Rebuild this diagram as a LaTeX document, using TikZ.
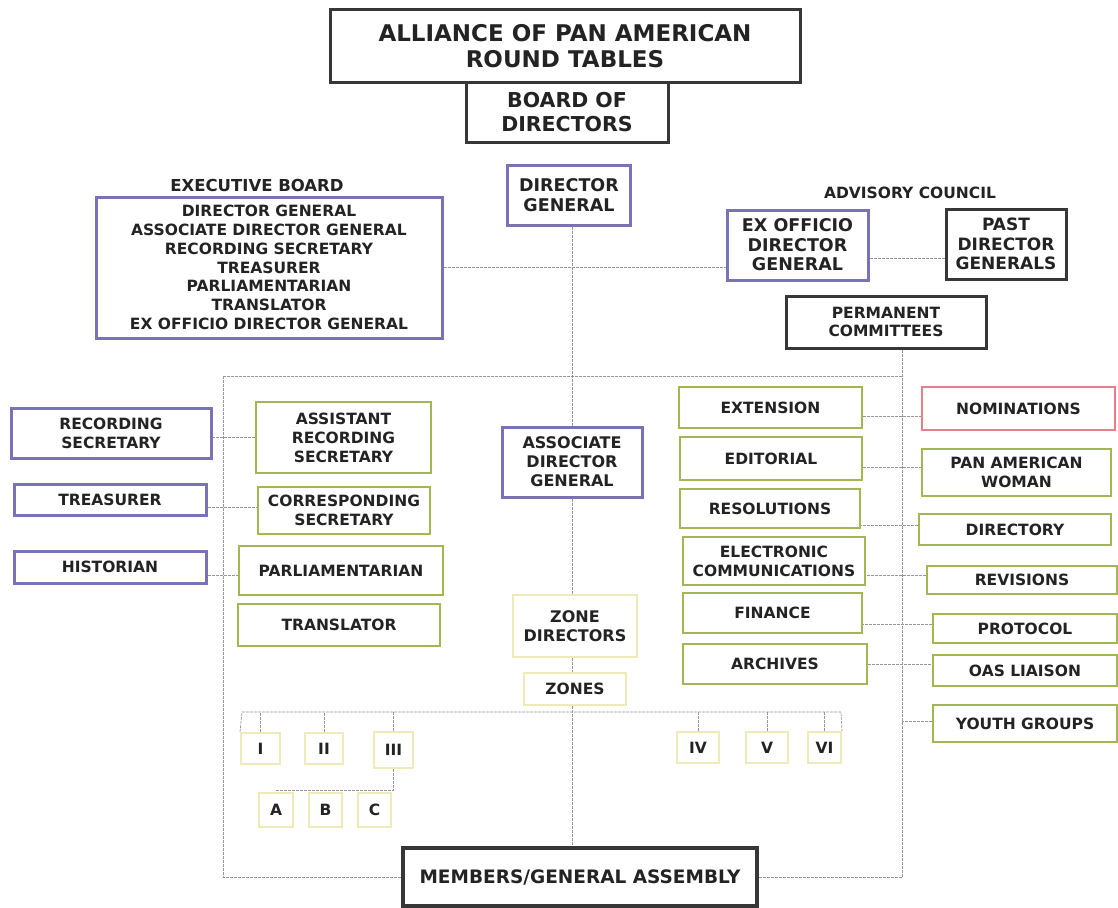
\documentclass[tikz,border=0pt]{standalone}
\usepackage{fontspec}
\setmainfont{DejaVu Sans}
\definecolor{purp}{RGB}{120,114,182}
\definecolor{grn}{RGB}{162,182,84}
\definecolor{ylw}{RGB}{240,234,184}
\definecolor{rd}{RGB}{228,128,136}
\definecolor{blk}{RGB}{55,55,55}
\definecolor{txt}{RGB}{35,35,35}
\definecolor{ln}{RGB}{150,150,150}
\tikzset{
  bx/.style={draw, fill=white, align=center, inner sep=0pt, text=txt,
    font=\fontsize{15.5}{19}\selectfont\bfseries},
  sz/.style 2 args={minimum width=#1pt, minimum height=#2pt},
  pbox/.style={bx, draw=purp, line width=3pt},
  gbox/.style={bx, draw=grn, line width=2.6pt},
  ybox/.style={bx, draw=ylw, line width=2pt},
  rbox/.style={bx, draw=rd, line width=2.4pt},
  kbox/.style={bx, draw=blk, line width=3pt},
  lbl/.style={text=txt, inner sep=0pt},
  conn/.style={draw=ln, line width=0.65pt, dash pattern=on 3pt off 1pt},
}
\begin{document}
\begin{tikzpicture}[x=1pt,y=-1pt]
\useasboundingbox (0,0) rectangle (1118,907);
\fill[white] (0,0) rectangle (1118,907);

% top
\node[kbox, sz={470}{72}, font=\fontsize{23}{26.5}\selectfont\bfseries] (title) at (565,46) {ALLIANCE OF PAN AMERICAN\\ROUND TABLES};
\node[kbox, sz={202}{60}, font=\fontsize{20.5}{24}\selectfont\bfseries] (board) at (567,112) {BOARD OF\\DIRECTORS};
\node[pbox, sz={123}{60}, font=\fontsize{17.5}{20}\selectfont\bfseries] (dg) at (569,195) {DIRECTOR\\GENERAL};

\node[lbl, font=\fontsize{16.5}{19}\selectfont\bfseries] (execlbl) at (257,185) {EXECUTIVE BOARD};
\node[pbox, sz={346}{141}, font=\fontsize{15.5}{18.8}\selectfont\bfseries] (exec) at (269,267.5)
  {DIRECTOR GENERAL\\ASSOCIATE DIRECTOR GENERAL\\RECORDING SECRETARY\\TREASURER\\PARLIAMENTARIAN\\TRANSLATOR\\EX OFFICIO DIRECTOR GENERAL};

\node[lbl, font=\fontsize{15.5}{18}\selectfont\bfseries] (advlbl) at (910,193) {ADVISORY COUNCIL};
\node[pbox, sz={141}{70}, font=\fontsize{17.5}{19.5}\selectfont\bfseries] (exoff) at (797.5,245) {EX OFFICIO\\DIRECTOR\\GENERAL};
\node[kbox, sz={120}{70}, font=\fontsize{17}{19.5}\selectfont\bfseries] (past) at (1006,244) {PAST\\DIRECTOR\\GENERALS};
\node[kbox, sz={200}{52}, font=\fontsize{15.5}{18}\selectfont\bfseries] (perm) at (886,322) {PERMANENT\\COMMITTEES};

% center column
\node[pbox, sz={140}{70}, font=\fontsize{16}{19}\selectfont\bfseries] (adg) at (572,462) {ASSOCIATE\\DIRECTOR\\GENERAL};
\node[ybox, sz={124}{62}, font=\fontsize{16}{18.5}\selectfont\bfseries] (zd) at (575,626) {ZONE\\DIRECTORS};
\node[ybox, sz={102}{32}] (zones) at (575,689) {ZONES};

% left columns
\node[pbox, sz={200}{50}] (recsec) at (111,433) {RECORDING\\SECRETARY};
\node[pbox, sz={192}{31}] (treas) at (110,499.5) {TREASURER};
\node[pbox, sz={192}{32}] (hist) at (110,567) {HISTORIAN};

\node[gbox, sz={175}{71}] (asst) at (343.5,437.5) {ASSISTANT\\RECORDING\\SECRETARY};
\node[gbox, sz={172}{47}] (corr) at (344,510.5) {CORRESPONDING\\SECRETARY};
\node[gbox, sz={204}{49}] (parl) at (341,570.5) {PARLIAMENTARIAN};
\node[gbox, sz={202}{42}] (transl) at (339,625) {TRANSLATOR};

% right green column
\node[gbox, sz={183}{41}] (ext) at (770.5,407.5) {EXTENSION};
\node[gbox, sz={182}{43}] (edit) at (771,458.5) {EDITORIAL};
\node[gbox, sz={180}{39}] (resol) at (770,508.5) {RESOLUTIONS};
\node[gbox, sz={182}{48}] (elec) at (774,561) {ELECTRONIC\\COMMUNICATIONS};
\node[gbox, sz={179}{40}] (fin) at (772.5,613) {FINANCE};
\node[gbox, sz={184}{40}] (arch) at (775,664) {ARCHIVES};

% far right column
\node[rbox, sz={193}{43}] (nom) at (1018.5,408.5) {NOMINATIONS};
\node[gbox, sz={189}{47}] (paw) at (1016.5,472.5) {PAN AMERICAN\\WOMAN};
\node[gbox, sz={192}{31}] (dir) at (1015,529.5) {DIRECTORY};
\node[gbox, sz={190}{28}] (rev) at (1022,580) {REVISIONS};
\node[gbox, sz={184}{29}] (prot) at (1025,628.5) {PROTOCOL};
\node[gbox, sz={184}{31}] (oas) at (1025,670.5) {OAS LIAISON};
\node[gbox, sz={184}{37}] (youth) at (1025,723.5) {YOUTH GROUPS};

% zones
\node[ybox, sz={39}{31}] (zI) at (260.5,748.5) {I};
\node[ybox, sz={38}{31}] (zII) at (324,748.5) {II};
\node[ybox, sz={39}{36}] (zIII) at (393.5,750) {III};
\node[ybox, sz={42}{31}] (zIV) at (698,747.5) {IV};
\node[ybox, sz={42}{31}] (zV) at (767,747.5) {V};
\node[ybox, sz={33}{31}] (zVI) at (824.5,747.5) {VI};
\node[ybox, sz={34}{34}] (zA) at (276,810) {A};
\node[ybox, sz={33}{34}] (zB) at (325.5,810) {B};
\node[ybox, sz={33}{34}] (zC) at (374.5,810) {C};

% members
\node[bx, draw=blk, line width=4pt, sz={354}{58}, font=\fontsize{18.5}{22}\selectfont\bfseries] (mem) at (580,877) {MEMBERS/GENERAL ASSEMBLY};

% connectors
\draw[conn] (dg.south -| adg.north) -- (adg.north);
\draw[conn] (adg.south) -- (adg.south |- zd.north);
\draw[conn] (adg.south |- zd.south) -- (adg.south |- zones.north);
\draw[conn] (adg.south |- zones.south) -- (adg.south |- mem.north);
\draw[conn] (exec.east) -- (exec.east -| exoff.west);
\draw[conn] ([yshift=-13pt]exoff.east) -- ([yshift=-13pt]exoff.east -| past.west);

\coordinate (ftl) at (223,376);
\coordinate (ftr) at (902,376);
\draw[conn] (ftl) -- (ftr);
\draw[conn] (ftl) -- (ftl |- mem.west) -- (mem.west);
\draw[conn] (perm.south -| ftr) -- (ftr |- mem.east) -- (mem.east);

\draw[conn] (asst.west) -- (asst.west -| recsec.east);
\draw[conn] ([yshift=-7.5pt]treas.east) -- ([yshift=-7.5pt]treas.east -| corr.west);
\draw[conn] ([yshift=-8pt]hist.east) -- ([yshift=-8pt]hist.east -| parl.west);

\draw[conn] ([yshift=-8.5pt]ext.east) -- ([yshift=-8.5pt]ext.east -| nom.west);
\draw[conn] ([yshift=-8.5pt]edit.east) -- ([yshift=-8.5pt]edit.east -| paw.west);
\draw[conn] ([yshift=4.5pt]dir.west) -- ([yshift=4.5pt]dir.west -| resol.east);
\draw[conn] ([yshift=5pt]rev.west) -- ([yshift=5pt]rev.west -| elec.east);
\draw[conn] ([yshift=4.5pt]prot.west) -- ([yshift=4.5pt]prot.west -| fin.east);
\draw[conn] (arch.east) -- (arch.east -| oas.west);
\draw[conn] ([yshift=2pt]youth.west) -- ([yshift=2pt]youth.west -| ftr);

\coordinate (bl) at (242,712);
\coordinate (br) at (841,712);
\draw[conn] (zI.north west) -- (bl) -- (br) -- (zVI.north east);
\foreach \z in {zI,zII,zIII,zIV,zV,zVI} {
  \draw[conn] (\z.north) -- (\z.north |- bl);
}
\draw[conn] (zIII.south) |- ([yshift=2pt]zA.north);
\end{tikzpicture}
\end{document}
